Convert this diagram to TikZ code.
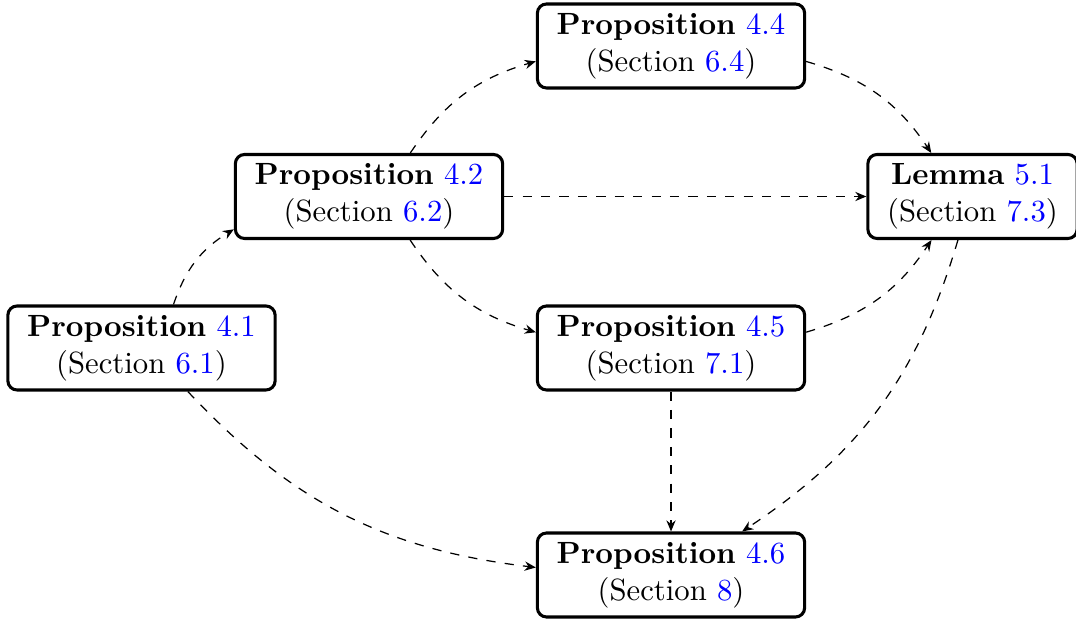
\documentclass[tikz,border=0pt]{standalone}
\usetikzlibrary{arrows.meta}
\definecolor{linkblue}{rgb}{0,0,1}
\newcommand{\lk}[1]{\textcolor{linkblue}{#1}}
\tikzset{
  resbox/.style={draw, line width=1pt, rounded corners=3pt, align=center,
    inner xsep=6.3pt, inner ysep=3pt, fill=white},
  arr/.style={dashed, thin, -{Stealth[length=3.6pt,width=3pt]}},
}
\begin{document}
\begin{tikzpicture}[x=0.3257pt, y=-0.3257pt]
\useasboundingbox (0,0) rectangle (1076,619);
\node[resbox] (a41) at (141.5,348) {\textbf{Proposition} \lk{4.1}\\(Section \lk{6.1})};
\node[resbox] (a42) at (369,196.5) {\textbf{Proposition} \lk{4.2}\\(Section \lk{6.2})};
\node[resbox] (a44) at (671,46) {\textbf{Proposition} \lk{4.4}\\(Section \lk{6.4})};
\node[resbox] (l51) at (972.5,196.5) {\textbf{Lemma} \lk{5.1}\\(Section \lk{7.3})};
\node[resbox] (a45) at (671,348) {\textbf{Proposition} \lk{4.5}\\(Section \lk{7.1})};
\node[resbox] (a46) at (671,575) {\textbf{Proposition} \lk{4.6}\\(Section \lk{8})};
\draw[arr] (a41) to[bend left=20] (a42);
\draw[arr] (a42) to[bend left=20] (a44);
\draw[arr] (a42) -- (l51);
\draw[arr] (a42) to[bend right=20] (a45);
\draw[arr] (a44) to[bend left=20] (l51);
\draw[arr] (a45) to[bend right=20] (l51);
\draw[arr] (l51) to[bend left=20] (a46);
\draw[arr] (a45) -- (a46);
\draw[arr] (a41) to[bend right=20] (a46);
\end{tikzpicture}
\end{document}
